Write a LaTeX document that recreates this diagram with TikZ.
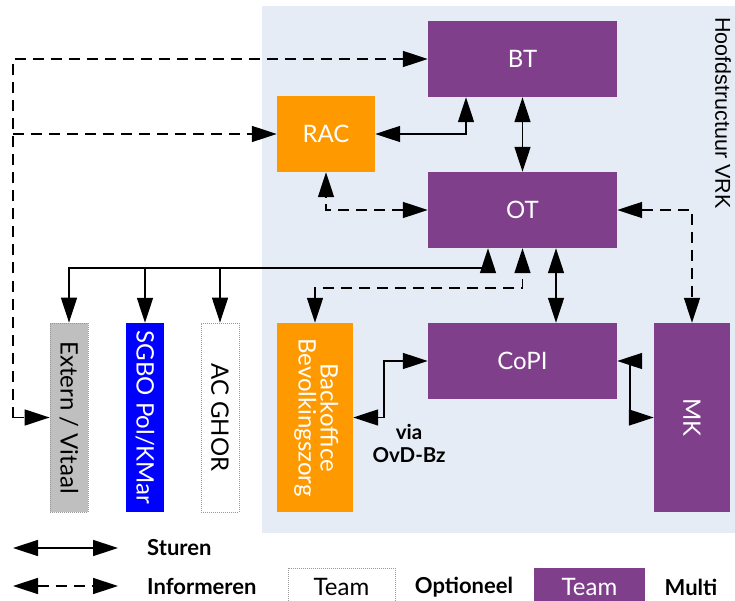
\documentclass[tikz,border=0pt]{standalone}
\usepackage{fontspec}
\usepackage{graphicx}
\setmainfont{Lato}
\newfontfamily\arialfont{Liberation Sans}
\usetikzlibrary{arrows.meta}
\definecolor{vrkpurple}{RGB}{127,63,139}
\definecolor{vrkorange}{RGB}{255,153,0}
\definecolor{vrkbg}{RGB}{230,236,246}
\definecolor{vrkgrey}{RGB}{191,191,191}
\definecolor{vrkblue}{RGB}{0,0,255}
\begin{document}
\begin{tikzpicture}[x=1pt,y=-1pt,
  >={Triangle[length=25pt,width=16pt]},
  conn/.style={line width=1.5pt},
  info/.style={line width=1.5pt, dash pattern=on 11pt off 7pt},
  boxtext/.style={inner sep=0pt, font=\fontsize{24}{27}\selectfont},
  hbox/.style={boxtext, minimum width=189pt, minimum height=76pt, fill=vrkpurple, text=white},
  vbox/.style={boxtext, minimum width=38pt, minimum height=189pt},
  dotborder/.style={draw=gray!80, line width=0.8pt, dash pattern=on 1pt off 1pt},
  legtext/.style={font=\bfseries\fontsize{22}{26}\selectfont, inner sep=0pt},
]
\path[use as bounding box, clip] (0,0) rectangle (735,601);
\fill[vrkbg] (262,6) rectangle (735,533);

% main boxes
\node[hbox] (BT) at (522.5,59) {BT};
\node[hbox] (OT) at (522.5,210) {OT};
\node[hbox] (CoPI) at (522.5,361) {CoPI};
\node[boxtext, fill=vrkorange, text=white, minimum width=98pt, minimum height=76pt] (RAC) at (326,134) {RAC};
\node[vbox, fill=vrkpurple, text=white, minimum width=76pt] (MK) at (692,417.5) {\rotatebox{-90}{MK}};
\node[vbox, fill=vrkorange, text=white, minimum width=76pt] (BO) at (315,417.5)
  {\rotatebox{-90}{\begin{tabular}{@{}c@{}}Backoffice\\[-5pt]Bevolkingszorg\end{tabular}}};
\node[vbox, fill=vrkgrey, dotborder, text=black] (EV) at (69,417.5) {\rotatebox{-90}{Extern / Vitaal}};
\node[vbox, fill=vrkblue, text=white] (SG) at (145,417.5) {\rotatebox{-90}{SGBO Pol/KMar}};
\node[vbox, fill=white, dotborder, text=black] (AC) at (220,417.5) {\rotatebox{-90}{AC GHOR}};

\node[rotate=-90, anchor=west, inner sep=0pt, font=\arialfont\fontsize{21.5}{24}\selectfont] (HV) at (723,17) {Hoofdstructuur VRK};

% solid connectors
\draw[conn,<->] (RAC.east) -| ([xshift=-56.5pt]BT.south);
\draw[conn,<->] (BT.south) -- (OT.north);
\draw[conn,<->] ([xshift=33.5pt]OT.south) -- ([xshift=33.5pt]CoPI.north);
\coordinate (bus) at (69,268);
\draw[conn,<->] (EV.north) -- (bus) -| ([xshift=-34.5pt]OT.south);
\draw[conn,->] (bus -| SG.north) -- (SG.north);
\draw[conn,->] (bus -| AC.north) -- (AC.north);
\draw[conn,<->] (BO.east) -- ++(31,0) |- (CoPI.west);
\draw[conn,<->] (CoPI.east) -- ++(13,0) |- (MK.west);

% dashed connectors
\draw[info,<->] (OT.west) -| (RAC.south);
\draw[info,<->] (OT.east) -| (MK.north);
\coordinate (dj) at (315,288);
\draw[info,<->] (BO.north) -- (dj) -| (OT.south);
\coordinate (lt) at (13,59);
\draw[info,->] (EV.west -| lt) -- (lt) -- (BT.west);
\draw[info,->] (RAC.west -| lt) -- (RAC.west);
\draw[info,->] (EV.west -| lt) -- (EV.west);

% via label
\node[font=\bfseries\fontsize{20.5}{23}\selectfont, align=center, inner sep=0pt] (via) at (409,443) {via\\OvD-Bz};

% legend
\coordinate (ls1) at (13,548);
\coordinate (ls2) at (118,548);
\coordinate (li1) at (13,586);
\coordinate (li2) at (118,586);
\draw[conn,<->] (ls1) -- (ls2);
\draw[info,<->] (li1) -- (li2);
\node[legtext, anchor=west] (st) at (147,548) {Sturen};
\node[legtext, anchor=west] (inf) at (147,586) {Informeren};
\node[boxtext, fill=white, dotborder, text=black, minimum width=107pt, minimum height=38pt] (lt1) at (341.5,587) {Team};
\node[legtext] (opt) at (464,587) {Optioneel};
\node[boxtext, fill=vrkpurple, text=white, minimum width=111pt, minimum height=38pt] (lt2) at (589.5,587) {Team};
\node[legtext] (mul) at (691,587) {Multi};
\end{tikzpicture}
\end{document}
